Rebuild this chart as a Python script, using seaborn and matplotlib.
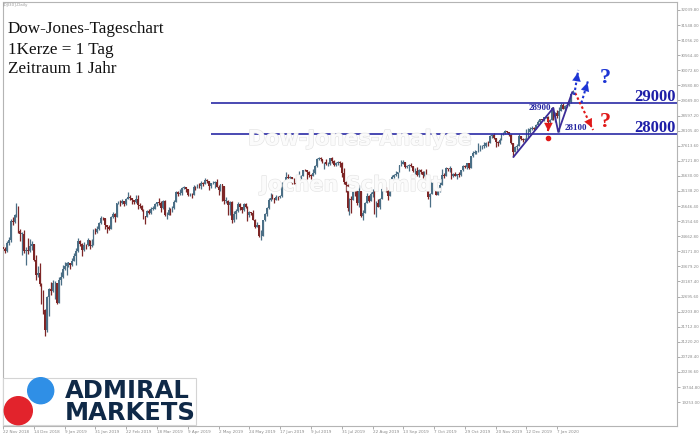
import numpy as np
import pandas as pd
import matplotlib
matplotlib.use("Agg")
import matplotlib.pyplot as plt
import matplotlib.transforms as mtrans
from matplotlib import patheffects as pe
from matplotlib.patches import Circle, Rectangle
import seaborn as sns

# ---------------- data ----------------
close = [
    24260, 24180, 24440, 24550, 25160, 25140, 25340, 25620, 24830, 24750,
    24750, 24190, 24220, 24170, 24330, 24400, 23900, 23390, 23470, 23120,
    22660, 22250, 21600, 22680, 22940, 22860, 23130, 23150, 22490, 23230,
    23330, 23590, 23680, 23800, 23800, 23710, 23870, 24010, 24170, 24510,
    24420, 24210, 24380, 24360, 24540, 24330, 24380, 24820, 24800, 24913,
    25089, 25261, 25240, 25019, 24956, 24903, 25275, 25393, 25289, 25733,
    25760, 25741, 25804, 25700, 25881, 25941, 25907, 25835, 25766, 25876,
    25669, 25656, 25523, 25323, 25300, 25500, 25404, 25552, 25559, 25698,
    25764, 25737, 25595, 25812, 25352, 25366, 25507, 25475, 25567, 25779,
    26108, 26029, 26068, 26235, 26275, 26191, 26000, 26007, 25993, 26262,
    26234, 26302, 26299, 26409, 26361, 26506, 26447, 26312, 26393, 26404,
    26443, 26280, 26158, 26355, 26288, 25815, 25818, 25678, 25792, 25175,
    25382, 25498, 25712, 25614, 25529, 25727, 25627, 25340, 25436, 25420,
    25197, 24976, 25019, 24665, 24670, 25182, 25390, 25570, 25834, 25912,
    25899, 25855, 25957, 25940, 25962, 26316, 26354, 26603, 26569, 26577,
    26398, 26387, 26376, 26450, 26568, 26637, 26816, 26810, 26772, 26656,
    26634, 26710, 26938, 27182, 27209, 27185, 27070, 27073, 27004, 27022,
    27199, 27120, 26991, 27042, 27071, 27048, 26714, 26433, 26335, 25568,
    25880, 25858, 26229, 26137, 25747, 26130, 25329, 25429, 25736, 25986,
    25812, 26052, 26103, 25479, 25749, 25628, 25886, 26212, 26253, 26150,
    25968, 26205, 26578, 26647, 26685, 26760, 26987, 27032, 27070, 26926,
    26961, 26997, 26944, 26785, 26799, 26658, 26820, 26741, 26670, 26767,
    26423, 25929, 26051, 26423, 26328, 26014, 26197, 26347, 26667, 26637,
    26874, 26851, 26876, 26620, 26677, 26638, 26684, 26656, 26808, 26941,
    26921, 27036, 26896, 27267, 27382, 27412, 27412, 27595, 27601, 27611,
    27611, 27704, 27702, 27925, 27956, 27854, 27741, 27686, 27796, 27986,
    28042, 28084, 28050, 27971, 27703, 27423, 27569, 27598, 27935, 27829,
    27801, 27831, 28052, 28055, 28155, 28187, 28159, 28297, 28375, 28471,
    28436, 28541, 28565, 28382, 28458, 28840, 28610, 28690, 28570, 28740,
    28950, 28820, 28905, 28940, 29030, 29300, 29370,
]
high = [
    24420, 24300, 24500, 24640, 25220, 25280, 25400, 25760, 25660, 24900,
    24800, 24880, 24300, 24600, 24560, 24520, 24420, 24050, 23700, 23800,
    23150, 22920, 22280, 22700, 22960, 23160, 23240, 23190, 23150, 23330,
    23500, 23720, 23820, 23830, 23830, 23800, 23960, 24110, 24290, 24610,
    24540, 24440, 24480, 24420, 24600, 24550, 24560, 24890, 24920, 24990,
    25110, 25320, 25300, 25250, 25040, 25030, 25320, 25450, 25420, 25750,
    25800, 25830, 25880, 25820, 25900, 26090, 25990, 25910, 25850, 26000,
    26010, 25750, 25680, 25540, 25330, 25530, 25560, 25620, 25640, 25760,
    25780, 25910, 25800, 25850, 25830, 25440, 25600, 25590, 25640, 25830,
    26130, 26140, 26200, 26260, 26300, 26280, 26200, 26070, 26080, 26330,
    26290, 26380, 26400, 26450, 26420, 26560, 26520, 26450, 26410, 26460,
    26470, 26530, 26320, 26380, 26380, 26300, 25940, 25830, 25800, 25810,
    25480, 25560, 25780, 25730, 25600, 25760, 25750, 25640, 25490, 25460,
    25520, 25220, 25120, 25030, 24860, 25200, 25410, 25600, 25900, 26070,
    26030, 25900, 25990, 25970, 26010, 26440, 26420, 26760, 26700, 26640,
    26600, 26560, 26470, 26500, 26780, 26660, 26830, 26850, 26830, 26800,
    26680, 26870, 27000, 27200, 27260, 27260, 27190, 27090, 27170, 27070,
    27220, 27230, 27160, 27080, 27100, 27110, 27090, 26900, 26450, 26350,
    25900, 25980, 26240, 26230, 26140, 26330, 26150, 25510, 25780, 26080,
    26000, 26090, 26190, 26170, 25800, 25880, 25900, 26250, 26380, 26260,
    26160, 26220, 26650, 26700, 26780, 26770, 27000, 27150, 27160, 27090,
    26990, 27010, 27060, 26950, 26880, 26910, 26860, 26840, 26800, 26800,
    26850, 26440, 26060, 26440, 26450, 26330, 26240, 26440, 26850, 26720,
    26930, 26900, 26950, 26880, 26710, 26760, 26700, 26750, 26830, 27000,
    26990, 27060, 27050, 27290, 27430, 27480, 27450, 27700, 27630, 27640,
    27720, 27740, 27760, 27950, 27990, 28030, 27880, 27780, 27850, 28020,
    28060, 28110, 28100, 28060, 28010, 27710, 27620, 27670, 27980, 27940,
    27880, 27880, 28150, 28190, 28220, 28260, 28220, 28310, 28450, 28490,
    28490, 28560, 28620, 28580, 28480, 28860, 28870, 28710, 28770, 28860,
    28990, 29000, 28930, 29050, 29060, 29320, 29430,
]
low = [
    24180, 24100, 24150, 24380, 24480, 25020, 25080, 25300, 24780, 24500,
    24040, 24120, 23720, 24080, 24150, 24200, 23850, 23250, 23320, 23050,
    22460, 22120, 21420, 21540, 22070, 22760, 22850, 22630, 22440, 22480,
    23080, 23310, 23550, 23400, 23660, 23580, 23680, 23850, 23720, 24150,
    24330, 24030, 24170, 24250, 24350, 24230, 24320, 24370, 24720, 24780,
    24850, 25060, 25180, 24890, 24760, 24860, 24900, 25270, 25130, 25280,
    25700, 25650, 25720, 25640, 25690, 25860, 25830, 25700, 25720, 25750,
    25540, 25590, 25500, 25220, 25050, 25290, 25380, 25400, 25520, 25540,
    25640, 25690, 25450, 25540, 25330, 25210, 25350, 25360, 25460, 25560,
    25770, 25960, 26010, 25990, 26200, 26110, 25960, 25960, 25920, 25990,
    26160, 26220, 26250, 26200, 26300, 26350, 26410, 26170, 26240, 26360,
    26220, 26260, 26020, 26150, 25820, 25720, 25760, 25370, 25360, 25080,
    25140, 25220, 25460, 25520, 25410, 25500, 25580, 25170, 25300, 25370,
    25180, 24930, 24950, 24650, 24530, 24660, 25170, 25330, 25560, 25820,
    25860, 25760, 25830, 25830, 25900, 25940, 26250, 26350, 26540, 26520,
    26380, 26360, 26340, 26340, 26420, 26530, 26620, 26780, 26530, 26590,
    26540, 26620, 26700, 26930, 27140, 27120, 27050, 26850, 26990, 26940,
    27000, 27040, 26960, 26960, 26990, 26920, 26600, 26350, 26100, 25480,
    25340, 25420, 25850, 25980, 25690, 25620, 25290, 25190, 25420, 25760,
    25790, 25800, 25930, 25400, 25300, 25600, 25540, 25880, 26200, 26090,
    25850, 25960, 26200, 26560, 26620, 26550, 26740, 26960, 27020, 26880,
    26880, 26800, 26920, 26740, 26700, 26620, 26600, 26700, 26560, 26640,
    26400, 25880, 25600, 26040, 26270, 25990, 26000, 26100, 26340, 26570,
    26630, 26800, 26740, 26540, 26600, 26610, 26530, 26600, 26620, 26790,
    26880, 26870, 26850, 26880, 27250, 27330, 27350, 27400, 27430, 27520,
    27540, 27560, 27600, 27700, 27850, 27830, 27560, 27620, 27670, 27790,
    27960, 28000, 28020, 27930, 27660, 27245, 27400, 27480, 27590, 27800,
    27730, 27760, 27790, 27880, 28040, 28140, 28130, 28150, 28290, 28360,
    28410, 28430, 28520, 28320, 28340, 28450, 28440, 28400, 28520, 28060,
    28730, 28800, 28760, 28880, 28900, 29020, 29300,
]
first_open = 24300  # each later candle opens at the previous close

date_labels = ["22 Nov 2018", "14 Dec 2018", "9 Jan 2019", "31 Jan 2019",
               "22 Feb 2019", "18 Mar 2019", "9 Apr 2019", "2 May 2019",
               "24 May 2019", "17 Jun 2019", "9 Jul 2019", "31 Jul 2019",
               "22 Aug 2019", "13 Sep 2019", "7 Oct 2019", "29 Oct 2019",
               "20 Nov 2019", "12 Dec 2019", "7 Jan 2020"]
label_step = 16  # one date label every 16 candles

price_ticks = [19253.00 + 491.80 * k for k in range(27)]

level_values = [29000, 28000]
level_labels = ["29000", "28000"]

# analyst drawing (bar index, price)
zig_x = [265.2, 285.9, 288.5, 295.8]
zig_y = [27246, 28844, 28061, 29366]
peak_label = ("28900", 284.6, 28780)
trough_label = ("28100", 292.0, 28130)

# ---------------- figure ----------------
sns.set_theme(style="white")
plt.rcParams['font.family'] = ['DejaVu Sans']

W, H = 700, 436
fig = plt.figure(figsize=(W / 100, H / 100), dpi=100)
fig.patch.set_facecolor("white")
ax = fig.add_axes([3 / W, 10 / H, 674 / W, 424 / H])
ax.set_facecolor("white")

n = len(close)
idx = np.arange(n)
c = np.array(close, float)
o = np.concatenate([[first_open], c[:-1]])
hi = np.array(high, float)
lo = np.array(low, float)
up = c >= o
bull, bear = "#4b6f86", "#7e2626"
cols = np.where(up, bull, bear)

ax.vlines(idx, lo, hi, colors=cols, linewidth=0.9, zorder=2)
body_lo = np.minimum(o, c)
body_h = np.maximum(np.abs(c - o), 15)
ax.bar(idx, body_h, bottom=body_lo, width=0.9, color=cols, linewidth=0, zorder=3)

ax.set_xlim(0.97, 350.2)
ax.set_ylim(18473, 32300)

# spines
for s in ax.spines.values():
    s.set_color("#b4b4b4")
    s.set_linewidth(0.8)

# right price scale
ax.yaxis.tick_right()
ax.set_yticks(price_ticks)
ax.set_yticklabels([f"{v:.2f}" for v in price_ticks])
ax.tick_params(axis="y", which="both", right=True, left=False, length=2.2,
               width=0.5, colors="#8a8a8a", labelsize=2.8, pad=0.8)
# bottom date scale
xt = [k * label_step for k in range(len(date_labels))]
ax.set_xticks(xt)
ax.set_xticklabels(date_labels, ha="left")
ax.tick_params(axis="x", bottom=True, length=2, width=0.5, colors="#8a8a8a",
               labelsize=3.0, pad=0.8)
ax.grid(False)

# watermark
wm = dict(color="#fbfbfb", fontsize=15, fontweight="bold", ha="center",
          va="center", zorder=1,
          path_effects=[pe.withStroke(linewidth=0.9, foreground="#e4e4e4")])
fig.text(360 / W, 1 - 139 / H, "Dow-Jones-Analyse", **wm)
fig.text(351 / W, 1 - 185 / H, "Jochen Schmidt", **wm)

# horizontal levels
ax.hlines(level_values, xmin=108.2, xmax=350.2, colors="#2a2aa6",
          linewidth=1.2, zorder=4)
off = mtrans.offset_copy(ax.transData, fig=fig, x=0, y=2, units="dots")
for v, t in zip(level_values, level_labels):
    ax.text(349.3, v, t, transform=off, ha="right", va="baseline",
            family=["Liberation Serif"], fontweight="bold", fontsize=12,
            color="#1e1ea8", zorder=6)

# zigzag
sns.lineplot(x=zig_x, y=zig_y, sort=False, ax=ax, color="#3c2c98",
             linewidth=1.3, zorder=5)
ax.text(peak_label[1], peak_label[2], peak_label[0], ha="right",
        va="baseline", family=["Liberation Serif"], fontweight="bold",
        fontsize=6.5, color="#2424a0", zorder=6)
ax.text(trough_label[1], trough_label[2], trough_label[0], ha="left",
        va="baseline", family=["Liberation Serif"], fontweight="bold",
        fontsize=6.5, color="#2424a0", zorder=6)

# arrows
def dotted_arrow(x0, y0, x1, y1, color):
    ax.plot([x0, x1], [y0, y1], linestyle=(0, (1.2, 1.2)), color=color,
            linewidth=1.5, zorder=6)
    ax.annotate("", xy=(x1, y1), xytext=(x0 + (x1 - x0) * 0.7, y0 + (y1 - y0) * 0.7),
                arrowprops=dict(arrowstyle="-|>,head_length=0.5,head_width=0.25",
                                color=color, lw=0.1, mutation_scale=12),
                zorder=7)

dotted_arrow(297.3, 29333, 306.6, 28126, "#e01818")
dotted_arrow(296.8, 29268, 298.9, 30083, "#1c34d4")
dotted_arrow(300.5, 29007, 304.1, 29757, "#1c34d4")
dotted_arrow(283.4, 28470, 283.4, 28080, "#e01818")
ax.plot([283.4], [27850], "o", color="#e01818", markersize=3, zorder=7)

ax.text(312.9, 29822, "?", ha="center", va="center", family=["Liberation Serif"],
        fontweight="bold", fontsize=16, color="#1c34d4", zorder=7)
ax.text(312.9, 28387, "?", ha="center", va="center", family=["Liberation Serif"],
        fontweight="bold", fontsize=16, color="#e01818", zorder=7)

# title block
fig.text(3 / W, 1 - 5 / H, "[DJI30],Daily", fontsize=3, color="#9a9a9a",
         va="center", ha="left")
for txt, yb in [("Dow-Jones-Tageschart", 33), ("1Kerze = 1 Tag", 54),
                ("Zeitraum 1 Jahr", 73)]:
    fig.text(8 / W, 1 - yb / H, txt, family=["Liberation Serif"],
             fontsize=12.3, color="#111111", va="baseline", ha="left")

# logo
fig.add_artist(Rectangle((3 / 100, (H - 425) / 100), 193 / 100, 47 / 100,
                         transform=fig.dpi_scale_trans, facecolor="white",
                         edgecolor="#d4d4d4", linewidth=0.8, zorder=8))
fig.add_artist(Circle((40.7 / 100, (H - 390.7) / 100), 13 / 100,
                      transform=fig.dpi_scale_trans, color="#2f8fe6", zorder=9))
fig.add_artist(Circle((18.3 / 100, (H - 410.7) / 100), 14 / 100,
                      transform=fig.dpi_scale_trans, color="#e2232c", zorder=9))
fig.text(65 / W, 1 - 397.5 / H, "ADMIRAL", fontsize=17.5, fontweight="bold",
         color="#0f2947", va="baseline", ha="left", zorder=10)
fig.text(65 / W, 1 - 420 / H, "MARKETS", fontsize=17.5, fontweight="bold",
         color="#0f2947", va="baseline", ha="left", zorder=10)

fig.savefig("out.png", dpi=100, facecolor="white")
